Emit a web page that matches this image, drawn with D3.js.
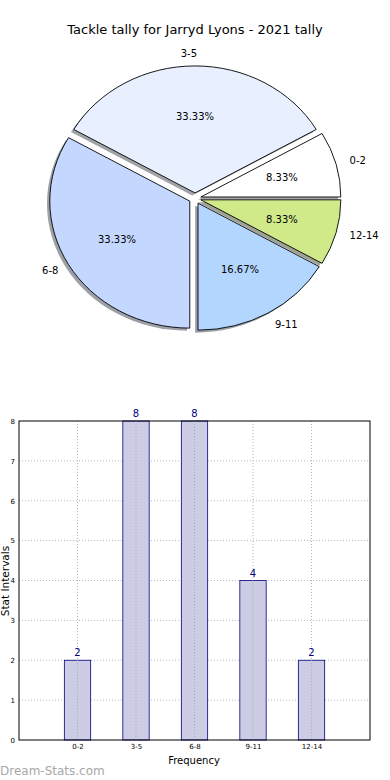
<!DOCTYPE html>
<html><head><meta charset="utf-8">
<script src="https://cdn.jsdelivr.net/npm/d3@7"></script>
<style>
body{margin:0;background:#fff;}
svg{display:block;font-family:"DejaVu Sans",sans-serif;}
</style></head>
<body>
<svg id="c" width="390" height="780"></svg>
<script>
const categories = ["0-2","3-5","6-8","9-11","12-14"];
const counts = [2,8,8,4,2];
const pieColors = ["#ffffff","#e8f0ff","#c4d8ff","#b3d6ff","#d0ea8a"];
const yTicks = [0,1,2,3,4,5,6,7,8];
const title = "Tackle tally for Jarryd Lyons - 2021 tally";

const svg = d3.select("#c");

svg.append("text").attr("x",195).attr("y",34).attr("text-anchor","middle")
  .attr("font-size",13).attr("fill","#000").text(title);

// ---- Pie (elliptical, exploded, with shadow) ----
const cx = 195, cy = 198.4, rx = 140, ry = 127, explode = 0.043;
const shadowDx = -2.8, shadowDy = 2.5;
const pie = d3.pie().sort(null).startAngle(Math.PI/2).endAngle(Math.PI/2 - 2*Math.PI);
const arcs = pie(counts);
const arc = d3.arc().innerRadius(0).outerRadius(1);
const total = d3.sum(counts);

function offset(a){
  const mid = (a.startAngle + a.endAngle)/2;
  return [Math.sin(mid), -Math.cos(mid)];
}
const pg = svg.append("g");
arcs.forEach((a,i)=>{
  const [ux,uy] = offset(a);
  const ox = cx + explode*rx*ux + shadowDx, oy = cy + explode*ry*uy + shadowDy;
  const c = d3.rgb(pieColors[i]);
  pg.append("path").attr("d",arc(a))
    .attr("transform",`translate(${ox},${oy}) scale(${rx},${ry})`)
    .attr("fill",d3.rgb(c.r*0.3,c.g*0.3,c.b*0.3)).attr("fill-opacity",0.5);
});
arcs.forEach((a,i)=>{
  const [ux,uy] = offset(a);
  const ox = cx + explode*rx*ux, oy = cy + explode*ry*uy;
  pg.append("path").attr("d",arc(a))
    .attr("transform",`translate(${ox},${oy}) scale(${rx},${ry})`)
    .attr("fill",pieColors[i]).attr("stroke","#000").attr("stroke-width",0.9)
    .attr("vector-effect","non-scaling-stroke");
  const lx = ox + 1.1*rx*ux, ly = oy + 1.1*ry*uy;
  pg.append("text").attr("x", ux>0.01 ? lx : lx+2).attr("y",ly).attr("dy","0.35em")
    .attr("text-anchor", ux>0.01 ? "start" : "end")
    .attr("font-size",10).text(categories[i]);
  const px = ox + 0.6*rx*ux, py = oy + 0.6*ry*uy;
  pg.append("text").attr("x",px).attr("y",py).attr("dy","0.35em")
    .attr("text-anchor","middle").attr("font-size",10)
    .text((counts[i]/total*100).toFixed(2)+"%");
});

// ---- Bar chart ----
const x = d3.scaleLinear().domain([-1,5]).range([19,370]);
const y = d3.scaleLinear().domain([0,8]).range([740,421]);
const g = svg.append("g");
const grid = "#b8b8b8";
yTicks.slice(1,-1).forEach(t=>{
  g.append("line").attr("x1",x(-1)).attr("x2",x(5)).attr("y1",y(t)).attr("y2",y(t))
    .attr("stroke",grid).attr("stroke-width",1).attr("stroke-dasharray","1,2");
});
categories.forEach((c,i)=>{
  g.append("line").attr("x1",x(i)).attr("x2",x(i)).attr("y1",y(0)).attr("y2",y(8))
    .attr("stroke",grid).attr("stroke-width",1).attr("stroke-dasharray","1,2");
});
const bw = x(0.45)-x(0);
g.selectAll("rect.bar").data(counts).join("rect").attr("class","bar")
  .attr("x",(d,i)=>x(i)-bw/2).attr("y",d=>y(d)).attr("width",bw).attr("height",d=>y(0)-y(d))
  .attr("fill","#ccccE5").attr("stroke","#000080").attr("stroke-width",0.8);
categories.forEach((c,i)=>{
  g.append("line").attr("x1",x(i)).attr("x2",x(i)).attr("y1",y(counts[i])).attr("y2",y(0))
    .attr("stroke","#a8a8b8").attr("stroke-width",1).attr("stroke-dasharray","1,2");
});
g.selectAll("text.val").data(counts).join("text").attr("class","val")
  .attr("x",(d,i)=>x(i)).attr("y",d=>y(d)-4).attr("text-anchor","middle")
  .attr("font-size",10).attr("fill","#000080").text(d=>d);
g.append("rect").attr("x",x(-1)).attr("y",y(8)).attr("width",x(5)-x(-1)).attr("height",y(0)-y(8))
  .attr("fill","none").attr("stroke","#000").attr("stroke-width",1);
const yAxis = d3.axisLeft(y).tickValues(yTicks).tickSize(0).tickPadding(4).tickFormat(d3.format("d"));
const ya = g.append("g").attr("transform",`translate(${x(-1)},0)`).call(yAxis);
ya.select(".domain").remove();
ya.selectAll("text").attr("font-size",7).attr("font-family","DejaVu Sans").attr("fill","#000");
const xAxis = d3.axisBottom(x).tickValues(d3.range(categories.length)).tickSize(0).tickPadding(4)
  .tickFormat(i=>categories[i]);
const xa = g.append("g").attr("transform",`translate(0,${y(0)})`).call(xAxis);
xa.select(".domain").remove();
xa.selectAll("text").attr("font-size",7).attr("font-family","DejaVu Sans").attr("fill","#000");
g.append("text").attr("x",194).attr("y",764).attr("text-anchor","middle").attr("font-size",10).text("Frequency");
g.append("text").attr("transform","translate(9,581) rotate(-90)").attr("text-anchor","middle")
  .attr("font-size",10.5).text("Stat Intervals");
svg.append("text").attr("x",0).attr("y",775).attr("font-size",12)
  .attr("fill","#a8a8a8").text("Dream-Stats.com");
</script>
</body></html>
